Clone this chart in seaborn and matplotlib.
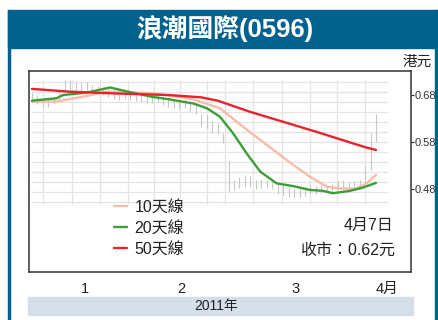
import numpy as np
import pandas as pd
import matplotlib
matplotlib.use("Agg")
import matplotlib.pyplot as plt
import seaborn as sns
from matplotlib.patches import Rectangle
from matplotlib.lines import Line2D
from matplotlib import font_manager

# ---------------- data ----------------
title = "浪潮國際(0596)"
unit_label = "港元"
year_label = "2011年"
date_note = "4月7日"
close_note = "收市：0.62元"

month_labels = ["1", "2", "3", "4月"]
month_label_pos = [9.7, 27.3, 48.2, 65.0]      # trading-day index
month_bounds = [18.5, 36.5, 59.5]
ytick_vals = [0.48, 0.58, 0.68]
ytick_labels = ["0.48", "0.58", "0.68"]

series_names = ["10天線", "20天線", "50天線"]

ma10_x = [0, 4.5, 10, 13.7, 22, 29.5, 34.4, 38.6, 43, 46.6, 50.9, 54, 56.4, 59.5, 61.3, 63]
ma10_y = [0.666, 0.666, 0.678, 0.687, 0.684, 0.671, 0.652, 0.613, 0.574, 0.542, 0.506,
          0.485, 0.481, 0.481, 0.492, 0.510]

ma20_x = [0, 4.5, 5.7, 10, 14.3, 18, 22, 25, 29.5, 32, 34.4, 36.8, 39.3, 41.8, 44.8,
          47.9, 50.9, 53.3, 55.1, 58.2, 60.6, 63]
ma20_y = [0.668, 0.673, 0.680, 0.685, 0.696, 0.686, 0.676, 0.671, 0.662, 0.652, 0.634,
          0.599, 0.556, 0.517, 0.492, 0.486, 0.478, 0.476, 0.471, 0.476, 0.483, 0.493]

ma50_x = [0, 7, 16, 25, 31, 34, 38, 40, 46, 52, 58, 61, 63]
ma50_y = [0.693, 0.687, 0.683, 0.680, 0.675, 0.668, 0.652, 0.644, 0.623, 0.602, 0.580,
          0.569, 0.563]

# daily high / low (faint price bars in background), 64 trading days
day_high = [0.685, 0.680, 0.672, 0.672, 0.675, 0.690, 0.712, 0.712, 0.708, 0.705,
            0.708, 0.702, 0.700, 0.698, 0.695, 0.692, 0.690, 0.690, 0.688,
            0.686, 0.684, 0.684, 0.680, 0.682, 0.676, 0.674, 0.672, 0.670, 0.672,
            0.668, 0.662, 0.640, 0.638, 0.625, 0.620, 0.600, 0.540,
            0.500, 0.505, 0.510, 0.508, 0.500, 0.502, 0.500, 0.498, 0.490, 0.488,
            0.485, 0.480, 0.482, 0.485, 0.488, 0.486, 0.488, 0.486, 0.490, 0.498,
            0.500, 0.495, 0.496,
            0.500, 0.530, 0.600, 0.640]
day_low = [0.665, 0.660, 0.655, 0.655, 0.660, 0.668, 0.690, 0.692, 0.688, 0.685,
           0.688, 0.685, 0.684, 0.680, 0.675, 0.672, 0.670, 0.672, 0.670,
           0.668, 0.665, 0.664, 0.662, 0.665, 0.658, 0.655, 0.652, 0.650, 0.652,
           0.646, 0.640, 0.612, 0.610, 0.600, 0.598, 0.578, 0.475,
           0.478, 0.482, 0.485, 0.484, 0.480, 0.483, 0.482, 0.480, 0.470, 0.468,
           0.462, 0.460, 0.462, 0.466, 0.470, 0.470, 0.472, 0.472, 0.474, 0.478,
           0.480, 0.478, 0.478,
           0.480, 0.490, 0.520, 0.580]

# weekly background grid (trading-day index)
week_lines = [2.0, 7.3, 12.5, 17.6, 22.3, 27.1, 32.1, 35.3, 40.5, 45.8, 50.9, 55.9, 61.0]

colors = {"10天線": "#f7bda8", "20天線": "#3c9e36", "50天線": "#e6222b"}

# ---------------- figure ----------------
sns.set_style("white")
FAM = ["Liberation Sans", "Noto Sans CJK TC", "DejaVu Sans"]
plt.rcParams["font.family"] = FAM

# narrow font for the right-hand tick labels, if present
try:
    font_manager.findfont(font_manager.FontProperties(family="Liberation Sans Narrow"),
                          fallback_to_default=False)
    tick_family, tick_size = "Liberation Sans Narrow", 9.5
except Exception:
    tick_family, tick_size = "Liberation Sans", 8

W, H = 439, 320
fig = plt.figure(figsize=(W / 100, H / 100), dpi=100)
fig.patch.set_facecolor("white")

blue = "#03628d"
# outer frame + title bar
fig.patches.append(Rectangle((8 / W, 0), 2 / W, 1 - 10 / H, transform=fig.transFigure,
                             color=blue, zorder=0))
fig.patches.append(Rectangle((435.5 / W, 0), 2 / W, 1 - 10 / H, transform=fig.transFigure,
                             color=blue, zorder=0))
fig.patches.append(Rectangle((8 / W, 1 - 48 / H), 430 / W, 38 / H, transform=fig.transFigure,
                             color=blue, zorder=0))
fig.text(225 / W, 1 - 29 / H, title, color="white", fontsize=18.5, fontweight="bold",
         ha="center", va="center", family=FAM)
fig.text(432 / W, 1 - 62 / H, unit_label, color="#222222", fontsize=10.5,
         ha="right", va="center", family=["Noto Sans CJK TC", "DejaVu Sans"])

# year band
fig.patches.append(Rectangle((28 / W, 1 - 315 / H), 385 / W, 18 / H, transform=fig.transFigure,
                             color="#d5dfe9", zorder=0))
fig.text(216 / W, 1 - 306 / H, year_label, color="#222222", fontsize=10,
         ha="center", va="center")

ax = fig.add_axes([29 / W, 1 - 272 / H, 382 / W, 201 / H])
x0px, spx = 32.0, 5.46
ax.set_xlim((29 - x0px) / spx, (411 - x0px) / spx)
ax.set_ylim(0.68 - (272 - 95) / 470, 0.68 + (95 - 71) / 470)

# background grid region
gx0, gx1 = (31 - x0px) / spx, (388 - x0px) / spx
gy0, gy1 = 0.68 - (205 - 95) / 470, 0.68 - (80 - 95) / 470
hgrid = 0.68 - (np.arange(81.7, 203, 10.0) - 95) / 470
ax.hlines(hgrid, gx0, gx1, color="#e4e4e4", lw=0.9, zorder=1)
ax.vlines(week_lines, gy0, gy1, color="#e4e4e4", lw=0.9, zorder=1)

# faint price bars
days = np.arange(len(day_high))
ax.vlines(days, day_low, day_high, color="#c6c6c6", lw=0.8, zorder=2)

# moving averages via seaborn
df = pd.concat([
    pd.DataFrame({"x": ma10_x, "y": ma10_y, "s": series_names[0]}),
    pd.DataFrame({"x": ma20_x, "y": ma20_y, "s": series_names[1]}),
    pd.DataFrame({"x": ma50_x, "y": ma50_y, "s": series_names[2]}),
])
sns.lineplot(data=df, x="x", y="y", hue="s", palette=colors, sort=False, estimator=None,
             lw=1.7, ax=ax, legend=False, zorder=3)

handles = [Line2D([], [], color=colors[n], lw=1.7) for n in series_names]
leg = ax.legend(handles, series_names, loc="upper left", bbox_to_anchor=(0.222, 0.362),
                frameon=False, handlelength=0.85, handletextpad=0.45,
                labelspacing=0.38, borderpad=0, borderaxespad=0,
                prop={"family": FAM, "size": 11.5})
for t in leg.get_texts():
    t.set_color("#222222")

ax.text(0.953, 0.232, date_note, transform=ax.transAxes, ha="right", va="center",
        fontsize=11.5, color="#222222")
ax.text(0.958, 0.108, close_note, transform=ax.transAxes, ha="right", va="center",
        fontsize=11.5, color="#222222")

# axes styling
for sp in ax.spines.values():
    sp.set_color("#333333")
    sp.set_linewidth(1.1)
ax.yaxis.tick_right()
ax.set_yticks(ytick_vals)
ax.set_yticklabels(ytick_labels, family=tick_family)
ax.tick_params(axis="y", direction="out", length=2.2, width=0.9, pad=0.6,
               labelsize=tick_size, colors="#333333", right=True, left=False)
ax.set_xticks(month_bounds)
ax.set_xticklabels([])
ax.tick_params(axis="x", which="major", direction="in", length=3, width=1, colors="#333333")
ax.set_xticks(month_label_pos, minor=True)
ax.set_xticklabels(month_labels, minor=True)
ax.tick_params(axis="x", which="minor", length=0, pad=7, labelsize=10.5, labelcolor="#222222")
ax.set_xlabel("")
ax.set_ylabel("")

fig.savefig("out.png", dpi=100)
